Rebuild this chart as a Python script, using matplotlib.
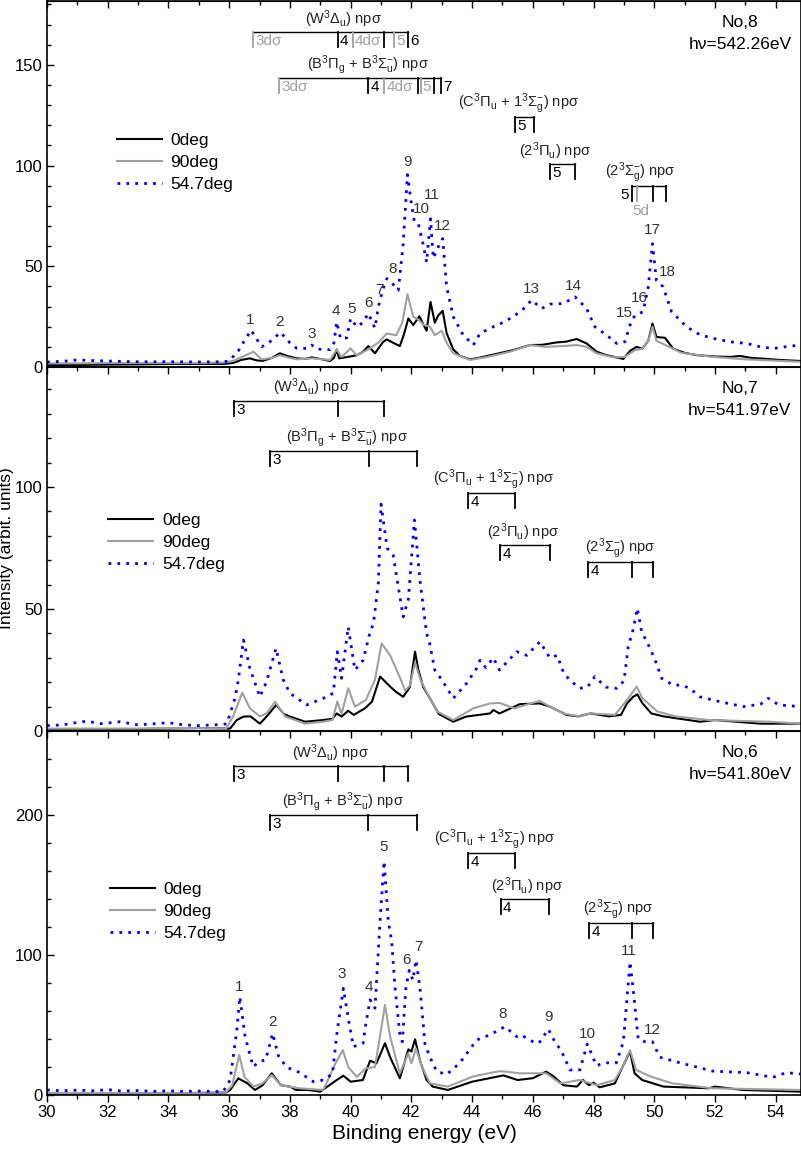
# Angle-resolved spectra, three photon energies (No,8 / No,7 / No,6)
import numpy as np
import matplotlib.pyplot as plt
from matplotlib.ticker import MultipleLocator

plt.rcParams['font.family'] = ['Liberation Sans', 'DejaVu Sans']
plt.rcParams['mathtext.fontset'] = 'custom'
plt.rcParams['mathtext.rm'] = 'Liberation Sans'
plt.rcParams['mathtext.it'] = 'Liberation Sans:italic'

# ---------------- No,8  (hv = 542.26 eV) ----------------
e8_0 = [30.0, 31.0, 32.0, 33.0, 34.0, 35.0, 35.8, 36.13, 36.4, 36.68, 36.9, 37.1, 37.4, 37.67, 37.9,
        38.22, 38.5, 38.72, 39.0, 39.32, 39.45, 39.54, 39.62, 39.9, 40.2, 40.4, 40.58, 40.8, 41.07,
        41.19, 41.4, 41.62, 41.75, 41.9, 42.06, 42.26, 42.5, 42.63, 42.77, 42.88, 43.03, 43.16, 43.38,
        43.6, 43.93, 44.2, 44.59, 45.0, 45.35, 45.9, 46.3, 46.78, 47.1, 47.44, 47.77, 48.1, 48.4,
        48.65, 48.98, 49.2, 49.42, 49.6, 49.8, 49.94, 50.07, 50.35, 50.62, 51.0, 51.39, 52.0, 52.5,
        52.82, 53.2, 53.7, 54.14, 54.8]
i8_0 = [1.0, 1.0, 1.2, 1.3, 1.5, 1.5, 1.5, 2.0, 3.5, 4.3, 3.3, 3.0, 4.5, 6.8, 5.5,
        4.3, 4.0, 4.8, 4.0, 3.0, 4.5, 8.7, 4.3, 5.0, 5.8, 7.5, 10.4, 6.8, 12.5,
        13.7, 12.0, 10.4, 16.0, 24.1, 20.8, 25.2, 18.0, 32.3, 22.0, 25.5, 27.9, 16.8, 8.7,
        5.5, 3.8, 4.5, 5.8, 7.2, 8.4, 10.9, 11.0, 12.2, 12.6, 13.9, 11.7, 7.6, 6.0,
        5.1, 4.0, 8.0, 10.0, 9.0, 13.0, 21.6, 14.9, 14.5, 9.1, 7.0, 5.9, 5.2, 5.0,
        5.5, 4.5, 4.0, 3.5, 3.0]

e8_90 = [30.0, 31.0, 32.0, 33.0, 34.0, 35.0, 35.8, 36.13, 36.5, 36.8, 37.07, 37.4, 37.67, 38.0, 38.22,
         38.72, 39.32, 39.54, 39.7, 40.0, 40.2, 40.58, 40.9, 41.19, 41.5, 41.7, 41.87, 42.06, 42.23,
         42.4, 42.61, 42.77, 43.0, 43.16, 43.38, 43.93, 44.5, 45.25, 45.9, 46.4, 47.1, 47.44, 47.77,
         48.1, 48.65, 49.03, 49.36, 49.6, 49.8, 49.94, 50.07, 50.35, 50.9, 51.94, 53.0, 54.8]
i8_90 = [1.8, 1.8, 2.0, 2.0, 2.0, 2.0, 2.2, 3.0, 5.5, 7.6, 3.8, 4.5, 5.8, 4.5, 3.8,
         4.3, 3.5, 8.7, 5.0, 9.2, 5.8, 8.7, 12.0, 16.6, 15.8, 22.0, 36.1, 25.0, 23.5,
         21.0, 20.0, 15.8, 18.0, 12.0, 6.8, 3.5, 5.0, 7.6, 10.9, 10.0, 10.5, 10.9, 10.0,
         6.8, 4.8, 5.0, 8.4, 9.0, 13.0, 20.0, 13.0, 11.0, 7.0, 5.0, 3.8, 2.6]

e8_54 = [30.0, 30.5, 31.0, 31.5, 32.4, 33.0, 34.0, 35.0, 35.8, 36.0, 36.3, 36.5, 36.72, 36.9, 37.07,
         37.34, 37.69, 38.0, 38.22, 38.55, 38.72, 38.88, 39.32, 39.45, 39.54, 39.67, 39.87, 40.0,
         40.2, 40.4, 40.58, 40.8, 40.91, 41.05, 41.19, 41.4, 41.57, 41.73, 41.87, 42.0, 42.1, 42.23,
         42.4, 42.5, 42.63, 42.72, 42.88, 43.03, 43.16, 43.38, 43.7, 44.04, 44.26, 44.7, 45.0, 45.35,
         45.7, 45.96, 46.29, 46.56, 47.0, 47.39, 47.77, 48.04, 48.43, 48.76, 49.03, 49.2, 49.36,
         49.63, 49.8, 49.94, 50.07, 50.29, 50.57, 51.06, 51.5, 51.94, 52.5, 53.04, 53.5, 53.91,
         54.3, 54.8]
i8_54 = [2.5, 2.8, 3.5, 3.2, 2.8, 2.6, 2.6, 2.5, 2.6, 3.0, 8.0, 13.0, 18.3, 14.0, 10.0,
         12.5, 17.2, 12.0, 9.3, 9.2, 10.9, 8.9, 8.6, 12.0, 22.4, 14.0, 14.5, 24.1,
         20.0, 22.0, 26.6, 19.3, 29.8, 38.0, 43.9, 41.0, 38.1, 61.2, 95.5, 81.0, 72.0, 71.0,
         60.0, 52.0, 73.6, 54.0, 59.5, 63.7, 39.8, 24.9, 16.0, 10.9, 16.7, 20.0, 22.0, 24.9,
         29.0, 33.2, 29.0, 31.2, 31.5, 34.8, 29.0, 20.0, 15.8, 11.7, 12.5, 20.8, 25.7,
         27.4, 39.8, 61.2, 43.0, 39.8, 27.4, 20.0, 16.0, 14.2, 12.5, 11.7, 10.0, 9.2,
         10.0, 10.9]

# ---------------- No,7  (hv = 541.97 eV) ----------------
e7_0 = [30.0, 31.0, 32.0, 33.0, 34.0, 35.0, 35.9, 36.03, 36.25, 36.47, 36.7, 37.01, 37.23, 37.55, 37.8,
        38.0, 38.5, 39.1, 39.4, 39.54, 39.7, 39.92, 40.1, 40.47, 40.7, 40.97, 41.3, 41.5, 41.73,
        41.95, 42.12, 42.23, 42.39, 42.61, 42.9, 43.38, 43.8, 44.59, 44.7, 44.9, 45.57, 46.23, 46.56,
        47.11, 47.5, 47.9, 48.5, 48.9, 49.1, 49.3, 49.44, 49.6, 49.9, 50.3, 51.5, 52.0, 53.5, 54.8]
i7_0 = [0.5, 0.5, 0.6, 0.8, 1.0, 1.2, 1.0, 1.0, 4.5, 5.9, 6.0, 3.0, 5.9, 10.7, 7.0,
        5.9, 3.8, 4.5, 5.0, 7.2, 5.9, 8.3, 6.6, 9.3, 12.0, 22.3, 18.2, 16.0, 14.0,
        18.0, 32.5, 25.0, 18.0, 13.4, 7.0, 3.8, 5.9, 7.2, 8.6, 7.2, 11.0, 11.3, 10.0,
        6.6, 6.0, 7.2, 6.0, 6.6, 11.3, 14.0, 15.0, 11.5, 7.2, 6.0, 3.8, 4.5, 3.0, 3.0]

e7_90 = [30.0, 31.0, 32.0, 33.0, 34.0, 35.0, 35.9, 36.13, 36.43, 36.68, 37.01, 37.23, 37.51, 37.85, 38.5,
         39.1, 39.4, 39.56, 39.7, 39.92, 40.14, 40.5, 40.8, 41.02, 41.3, 41.62, 41.8, 41.95, 42.12,
         42.3, 42.5, 42.85, 43.38, 44.04, 44.59, 44.9, 45.4, 46.23, 46.56, 47.0, 47.55, 47.9, 48.7,
         49.1, 49.42, 49.6, 50.1, 50.7, 51.8, 53.8, 54.8]
i7_90 = [1.0, 1.0, 1.0, 1.0, 1.2, 1.2, 1.0, 6.0, 15.7, 9.3, 6.0, 7.2, 12.0, 5.9, 3.0,
         3.8, 4.5, 12.0, 7.0, 17.5, 10.0, 12.7, 21.0, 35.9, 31.0, 22.0, 16.5, 18.6, 28.0,
         21.0, 16.0, 8.0, 4.5, 9.3, 11.3, 11.5, 9.3, 12.4, 10.0, 7.2, 6.0, 7.2, 6.6,
         12.7, 18.2, 13.5, 8.0, 6.0, 4.5, 3.8, 3.0]

e7_54 = [30.0, 30.5, 31.0, 31.3, 31.8, 32.4, 33.0, 34.0, 34.5, 35.0, 35.5, 35.92, 36.19, 36.3, 36.47,
         36.68, 37.01, 37.23, 37.54, 37.78, 38.0, 38.55, 39.1, 39.43, 39.56, 39.7, 39.92, 40.14,
         40.41, 40.64, 40.75, 40.91, 41.0, 41.2, 41.4, 41.57, 41.73, 41.9, 42.1, 42.28, 42.5, 42.6,
         42.77, 43.0, 43.38, 43.82, 44.15, 44.26, 44.45, 44.7, 44.9, 45.47, 45.8, 46.23, 46.56, 46.8,
         47.0, 47.2, 47.55, 47.8, 48.04, 48.4, 48.76, 49.0, 49.14, 49.3, 49.44, 49.58, 49.86, 50.07,
         50.24, 50.62, 50.9, 51.17, 51.5, 52.16, 52.93, 53.5, 53.75, 54.1, 54.8]
i7_54 = [2.2, 2.5, 3.5, 4.0, 3.0, 3.8, 2.5, 3.4, 2.5, 2.2, 2.5, 2.9, 13.4, 20.9, 37.3,
         25.7, 14.0, 20.2, 33.9, 21.0, 15.5, 10.7, 13.4, 15.5, 32.5, 21.6, 42.7, 25.0,
         29.0, 40.7, 44.0, 60.5, 93.0, 75.0, 72.0, 59.0, 46.8, 54.0, 86.5, 62.0, 40.0, 36.0,
         25.0, 21.0, 13.4, 19.6, 25.7, 29.0, 26.0, 30.0, 25.0, 32.5, 31.0, 36.6, 30.0, 31.0,
         24.3, 21.0, 17.5, 18.0, 22.3, 18.0, 17.5, 20.5, 34.6, 41.5, 50.3, 40.8, 33.9, 27.7,
         21.6, 18.8, 18.8, 17.5, 14.0, 12.0, 10.0, 11.0, 13.4, 10.7, 10.0]

# ---------------- No,6  (hv = 541.80 eV) ----------------
e6_0 = [30.0, 31.0, 32.0, 33.0, 34.0, 35.0, 35.9, 36.03, 36.3, 36.6, 36.85, 37.1, 37.4, 37.7, 38.0,
        38.2, 38.6, 39.0, 39.54, 39.76, 40.0, 40.4, 40.64, 40.85, 41.13, 41.3, 41.62, 41.9, 42.0,
        42.12, 42.28, 42.5, 42.7, 43.2, 44.0, 45.03, 45.5, 46.0, 46.44, 46.7, 47.0, 47.45, 47.65,
        47.85, 48.0, 48.2, 48.7, 48.95, 49.2, 49.35, 49.6, 50.3, 51.8, 52.0, 52.9, 54.8]
i6_0 = [0.8, 1.0, 1.0, 1.2, 1.3, 1.5, 1.8, 3.6, 11.9, 8.3, 3.6, 7.0, 15.5, 7.0, 6.0,
        3.6, 3.6, 2.4, 10.7, 13.8, 9.5, 10.7, 24.5, 22.6, 37.0, 27.0, 11.9, 32.6, 31.0,
        39.8, 24.8, 10.7, 6.0, 3.6, 9.5, 14.0, 10.7, 12.0, 16.7, 13.0, 7.0, 6.0, 10.7,
        7.0, 8.8, 5.5, 8.3, 20.0, 31.0, 15.5, 10.7, 6.0, 4.8, 6.0, 3.6, 2.4]

e6_90 = [30.0, 31.0, 32.0, 33.0, 34.0, 35.0, 35.9, 36.1, 36.33, 36.5, 36.8, 37.1, 37.4, 37.7, 38.3,
         39.1, 39.5, 39.74, 39.92, 40.2, 40.5, 40.8, 40.95, 41.13, 41.3, 41.62, 41.9, 42.0, 42.15,
         42.35, 42.61, 43.2, 44.0, 44.26, 44.9, 45.1, 45.57, 46.44, 46.9, 47.55, 48.1, 48.7, 48.95,
         49.2, 49.4, 49.9, 50.6, 51.9, 54.8]
i6_90 = [1.5, 1.5, 1.5, 1.5, 1.5, 1.5, 2.0, 7.0, 28.6, 13.0, 6.0, 8.3, 14.3, 7.0, 4.8,
         3.6, 22.6, 32.0, 20.0, 13.0, 19.0, 20.0, 40.0, 64.3, 41.7, 15.5, 29.8, 22.6, 33.3,
         20.0, 8.3, 6.0, 13.0, 14.3, 17.0, 16.7, 15.5, 15.5, 8.3, 10.7, 7.0, 10.7, 20.0,
         32.0, 17.9, 13.0, 8.3, 4.8, 3.6]

e6_54 = [30.0, 30.5, 31.0, 31.5, 32.0, 32.5, 33.0, 33.5, 34.0, 34.5, 35.0, 35.8, 36.03, 36.25, 36.35,
         36.52, 36.79, 37.0, 37.2, 37.43, 37.62, 37.89, 38.33, 38.77, 39.1, 39.4, 39.54, 39.76,
         39.92, 40.09, 40.41, 40.5, 40.64, 40.8, 40.97, 41.1, 41.24, 41.35, 41.46, 41.62, 41.7,
         41.82, 41.93, 42.05, 42.15, 42.28, 42.45, 42.61, 42.83, 43.16, 43.6, 44.15, 44.59, 45.08,
         45.47, 45.6, 46.01, 46.2, 46.51, 46.7, 46.95, 47.22, 47.55, 47.79, 47.9, 48.09, 48.4,
         48.75, 48.98, 49.2, 49.33, 49.47, 49.7, 49.94, 50.18, 50.84, 51.94, 53.04, 53.9, 54.35, 54.8]
i6_54 = [3.6, 3.0, 3.5, 3.0, 3.8, 2.8, 3.2, 2.6, 3.0, 2.6, 2.8, 2.4, 10.7, 46.0, 70.2,
         42.0, 20.2, 24.0, 25.0, 44.0, 28.0, 19.8, 16.0, 9.5, 10.7, 15.0, 43.0, 76.2,
         55.0, 34.5, 37.0, 51.0, 68.0, 62.0, 125.0, 167.0, 124.0, 110.0, 77.0, 43.0, 38.0,
         77.0, 89.0, 82.0, 96.4, 77.0, 36.0, 27.0, 17.0, 14.6, 23.0, 39.3, 43.0, 48.8,
         41.7, 43.0, 38.0, 37.0, 47.0, 39.0, 31.0, 17.9, 17.9, 36.4, 31.0, 21.0, 23.0,
         23.0, 38.0, 95.2, 70.0, 40.0, 38.0, 38.0, 27.0, 23.0, 17.0, 16.0, 12.6, 16.0, 15.0]

# peak numbers: (energy, height, label)
peaks8 = [(36.68, 23.3, '1'), (37.67, 22.4, '2'), (38.72, 16.5, '3'), (39.52, 27.9, '4'),
          (40.03, 28.6, '5'), (40.58, 31.8, '6'), (40.94, 38.0, '7'), (41.38, 48.8, '8'),
          (41.88, 101.6, '9'), (42.32, 78.6, '10'), (42.67, 85.4, '11'), (43.03, 69.8, '12'),
          (45.96, 38.9, '13'), (47.33, 40.1, '14'), (49.01, 26.6, '15'), (49.5, 34.2, '16'),
          (49.94, 67.8, '17'), (50.44, 47.2, '18')]
peaks6 = [(36.33, 77.4, '1'), (37.42, 52.4, '2'), (39.7, 86.2, '3'), (40.61, 77.4, '4'),
          (41.07, 176.9, '5'), (41.85, 96.4, '6'), (42.23, 105.9, '7'), (45.01, 57.9, '8'),
          (46.51, 55.9, '9'), (47.79, 43.6, '10'), (49.16, 103.1, '11'), (49.94, 46.4, '12')]

# term labels
SIG = '\u03c3'
W_lab = r'(W$^3\Delta_\mathrm{u}$) np' + SIG
B_lab = r'(B$^3\Pi_\mathrm{g}$ + B$^3\Sigma_\mathrm{u}^{-}$) np' + SIG
C_lab = r'(C$^3\Pi_\mathrm{u}$ + 1$^3\Sigma_\mathrm{g}^{-}$) np' + SIG
P_lab = r'(2$^3\Pi_\mathrm{u}$) np' + SIG
S_lab = r'(2$^3\Sigma_\mathrm{g}^{-}$) np' + SIG

GR = '#a0a0a0'
# brackets: (title, title_x, level, [(energy, colour, label), ...])
br8 = [(W_lab, 39.76, 166.3, [(36.8, GR, '3d' + SIG), (39.57, 'k', '4'), (40.07, GR, '4d' + SIG),
                              (41.11, 'k', ''), (41.43, GR, '5'), (41.9, 'k', '6')]),
       (B_lab, 40.58, 143.7, [(37.65, GR, '3d' + SIG), (40.58, 'k', '4'), (41.1, GR, '4d' + SIG),
                              (42.23, 'k', ''), (42.3, GR, '5'), (42.74, 'k', ''), (42.97, 'k', '7')]),
       (C_lab, 45.52, 123.9, [(45.41, 'k', '5'), (46.05, 'k', '')]),
       (P_lab, 46.73, 100.8, [(46.56, 'k', '5'), (47.39, 'k', '')]),
       (S_lab, 49.53, 90.1, [(49.25, 'k', ''), (49.44, GR, ''), (49.94, 'k', ''), (50.4, 'k', '')])]
br7 = [(W_lab, 38.71, 135.4, [(36.17, 'k', '3'), (39.57, 'k', ''), (41.11, 'k', '')]),
       (B_lab, 39.87, 114.8, [(37.34, 'k', '3'), (40.6, 'k', ''), (42.19, 'k', '')]),
       (C_lab, 44.7, 97.4, [(43.87, 'k', '4'), (45.41, 'k', '')]),
       (P_lab, 45.68, 76.2, [(44.93, 'k', '4'), (46.56, 'k', '')]),
       (S_lab, 48.87, 69.4, [(47.82, 'k', '4'), (49.25, 'k', ''), (49.96, 'k', '')])]
br6 = [(W_lab, 39.32, 235.0, [(36.17, 'k', '3'), (39.57, 'k', ''), (41.11, 'k', ''), (41.9, 'k', '')]),
       (B_lab, 39.76, 200.0, [(37.34, 'k', '3'), (40.58, 'k', ''), (42.19, 'k', '')]),
       (C_lab, 44.75, 173.0, [(43.87, 'k', '4'), (45.41, 'k', '')]),
       (P_lab, 45.8, 139.8, [(44.94, 'k', '4'), (46.54, 'k', '')]),
       (S_lab, 48.81, 123.0, [(47.85, 'k', '4'), (49.27, 'k', ''), (49.94, 'k', '')])]

fig = plt.figure(figsize=(8.01, 11.66), dpi=100)
L, R = 47 / 801, 801 / 801
axes = [fig.add_axes([L, 1 - 367 / 1166, R - L, 366 / 1166]),
        fig.add_axes([L, 1 - 731 / 1166, R - L, 364 / 1166]),
        fig.add_axes([L, 1 - 1095 / 1166, R - L, 364 / 1166])]

panels = [
    (e8_0, i8_0, e8_90, i8_90, e8_54, i8_54, 181.7, 50, 10, 'No,8', 'h\u03bd=542.26eV', br8, peaks8, 0.64, 0.0925),
    (e7_0, i7_0, e7_90, i7_90, e7_54, i7_54, 149.2, 50, 10, 'No,7', 'h\u03bd=541.97eV', br7, [], 0.60, 0.081),
    (e6_0, i6_0, e6_90, i6_90, e6_54, i6_54, 260.0, 100, 20, 'No,6', 'h\u03bd=541.80eV', br6, peaks6, 0.585, 0.083),
]

for ax, p in zip(axes, panels):
    ea, ia, eb, ib, ec, ic, ymax, ymaj, ymin_, no, hv, brs, pks, leg_y, leg_x = p
    ax.plot(ea, ia, color='k', lw=1.5, label='0deg')
    ax.plot(eb, ib, color=GR, lw=1.5, label='90deg')
    ax.plot(ec, ic, color='#0000ff', lw=2, ls=(0, (1, 2.2)), label='54.7deg')
    ax.set_xlim(30, 54.83)
    ax.set_ylim(0, ymax)
    ax.xaxis.set_major_locator(MultipleLocator(2))
    ax.xaxis.set_minor_locator(MultipleLocator(1))
    ax.yaxis.set_major_locator(MultipleLocator(ymaj))
    ax.yaxis.set_minor_locator(MultipleLocator(ymin_))
    ax.tick_params(axis='x', which='major', direction='out', length=5, width=1, labelsize=12, pad=2)
    ax.tick_params(axis='x', which='minor', direction='out', length=3, width=1)
    ax.tick_params(axis='y', which='major', direction='in', length=5, width=1, labelsize=12, pad=3)
    ax.tick_params(axis='y', which='minor', direction='in', length=3, width=1)
    # mirrored ticks on the top edge, pointing inward
    top = ax.secondary_xaxis('top')
    top.xaxis.set_major_locator(MultipleLocator(2))
    top.xaxis.set_minor_locator(MultipleLocator(1))
    top.tick_params(which='major', direction='in', length=5, width=1, labeltop=False)
    top.tick_params(which='minor', direction='in', length=3, width=1)
    for s in ax.spines.values():
        s.set_linewidth(1.2)
    ax.text(0.919, 0.94, no, transform=ax.transAxes, ha='center', va='center', fontsize=12.5)
    ax.text(0.919, 0.88, hv, transform=ax.transAxes, ha='center', va='center', fontsize=12.5)
    ax.legend(loc='upper left', bbox_to_anchor=(leg_x, leg_y), frameon=False, fontsize=12.5,
              handlelength=2.6, handletextpad=0.5, labelspacing=0.4, borderpad=0, borderaxespad=0)

    # pixel -> data conversion for bracket ticks
    ppu = ax.get_position().height * 1166 / ymax
    tl = 15 / ppu
    for title, tx, lev, ticks in brs:
        es = [t[0] for t in ticks]
        ax.plot([min(es), max(es)], [lev, lev], color='k', lw=1)
        for e, c, lab in ticks:
            ax.plot([e, e], [lev, lev - tl], color=c, lw=1.3)
            if lab:
                ax.annotate(lab, (e, lev), xytext=(1.5, -6.5), textcoords='offset points',
                            ha='left', va='center', fontsize=11, color=c)
        ax.annotate(title, (tx, lev), xytext=(0, 9.5), textcoords='offset points',
                    ha='center', va='center', fontsize=10.5, color='#222222')
    for e, v, lab in pks:
        ax.text(e, v, lab, ha='center', va='center', fontsize=11, color='#333333')

# extra labels of the 2Sigma_g bracket in the top panel
ppu8 = axes[0].get_position().height * 1166 / 181.7
axes[0].annotate('5', (49.25, 90.1), xytext=(-2, -6.5), textcoords='offset points',
                 ha='right', va='center', fontsize=11, color='k')
axes[0].text(49.55, 90.1 - 25 / ppu8, '5d', ha='center', va='center', fontsize=11, color=GR)

axes[0].tick_params(labelbottom=False)
axes[1].tick_params(labelbottom=False)
axes[2].set_xlabel('Binding energy (eV)', fontsize=15, labelpad=3)
fig.text(0.008, 0.53, 'Intensity (arbit. units)', rotation=90, ha='center', va='center', fontsize=12.5)

fig.savefig('out.png', dpi=100)
